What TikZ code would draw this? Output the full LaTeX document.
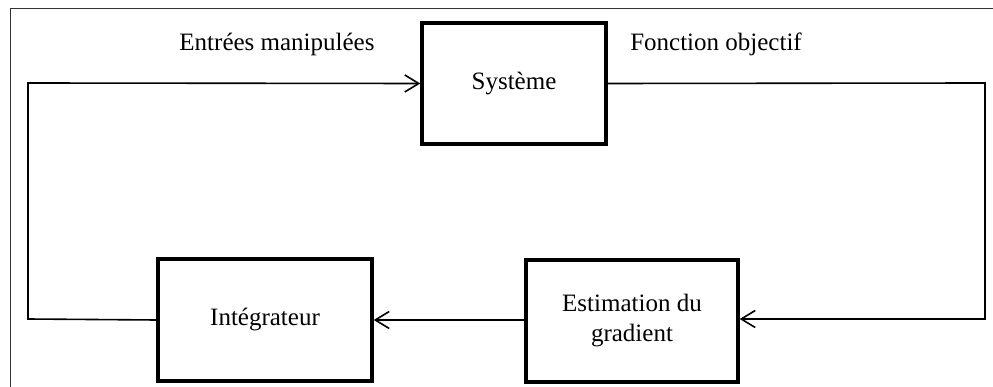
\documentclass[tikz,border=0pt]{standalone}
\usepackage{fontspec}
\setmainfont{Liberation Serif}
\usetikzlibrary{arrows.meta}
\begin{document}
\begin{tikzpicture}[x=1pt,y=-1pt,
  blockbox/.style={draw, line width=3.4pt, rectangle, inner sep=0pt, align=center, font=\fontsize{25}{30}\selectfont},
  wire/.style={line width=1.6pt},
  arr/.style={wire, -{Straight Barb[length=14pt,width=17pt,line width=1.6pt]}},
  lbl/.style={font=\fontsize{25}{30}\selectfont, inner sep=0pt},
  frame/.style={draw=black!80, line width=1pt}]
\useasboundingbox (0,0) rectangle (993,387);
% outer frame
\draw[frame] (993,9) -- (10,9) -- (10,387);
% blocks
\node[blockbox, minimum width=184pt, minimum height=121pt] (sys) at (514,83.5) {Système};
\node[blockbox, minimum width=214pt, minimum height=122pt] (integ) at (265,320) {Intégrateur};
\node[blockbox, minimum width=212pt, minimum height=122pt] (est) at (632,321) {Estimation du\\gradient};
% labels
\node[lbl] (lin) at (277,44) {Entrées manipulées};
\node[lbl] (lout) at (716,44) {Fonction objectif};
% corner coordinates
\coordinate (bl) at (28,319);
\coordinate (tl) at (28,83);
\coordinate (tr) at (985,83);
\coordinate (br) at (985,319);
% connectors
\draw[arr] (integ.west) -- (bl) -- (tl) -- (sys.west);
\draw[arr] (sys.east) -- (tr) -- (br) -- (est.east |- br);
\draw[arr] (est.west |- integ.east) -- (integ.east);
\end{tikzpicture}
\end{document}
